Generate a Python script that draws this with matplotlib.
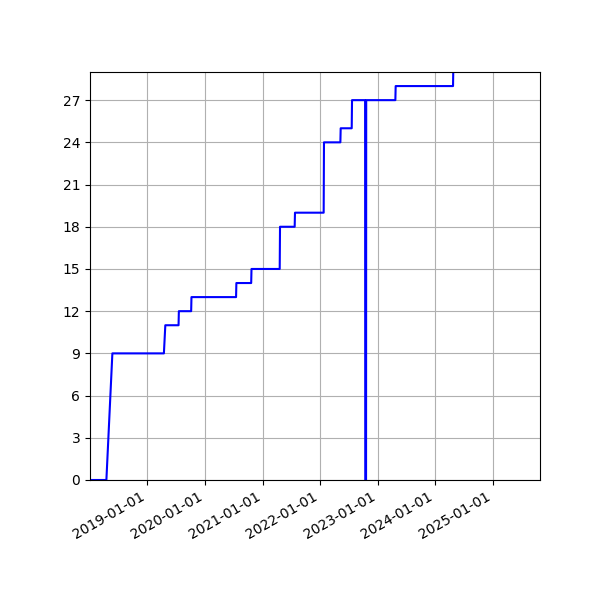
import matplotlib
matplotlib.use("Agg")
import matplotlib.pyplot as plt
import matplotlib.dates as mdates
import numpy as np
from datetime import datetime

# cumulative count (two points per step)
dates = [
    "2018-01-01", "2018-04-16", "2018-05-24",
    "2019-04-16", "2019-04-25",
    "2019-07-18", "2019-07-20",
    "2019-10-06", "2019-10-08",
    "2020-07-17", "2020-07-19",
    "2020-10-21", "2020-10-23",
    "2021-04-20", "2021-04-22",
    "2021-07-24", "2021-07-26",
    "2022-01-24", "2022-01-26",
    "2022-05-10", "2022-05-12",
    "2022-07-21", "2022-07-23",
    "2022-10-14", "2022-10-15", "2022-10-20", "2022-10-21",
    "2023-04-24", "2023-04-26",
    "2024-04-24", "2024-05-01",
]
values = [
    0, 0, 9,
    9, 11,
    11, 12,
    12, 13,
    13, 14,
    14, 15,
    15, 18,
    18, 19,
    19, 24,
    24, 25,
    25, 27,
    27, 0, 0, 27,
    27, 28,
    28, 33,
]

x = [datetime.strptime(d, "%Y-%m-%d") for d in dates]

fig = plt.figure(figsize=(6, 6), dpi=100)
ax = fig.add_subplot(111)
fig.subplots_adjust(left=0.15, right=0.9, top=0.88, bottom=0.2)

ax.plot(x, values, color="blue", linewidth=1.5)

ax.set_xlim(datetime(2018, 1, 2), datetime(2025, 10, 28))
ax.set_ylim(0, 29)
ax.set_yticks(np.arange(0, 28, 3))
ax.xaxis.set_major_locator(mdates.YearLocator())
ax.xaxis.set_major_formatter(mdates.DateFormatter("%Y-%m-%d"))
ax.grid(True)

for lbl in ax.get_xticklabels():
    lbl.set_rotation(30)
    lbl.set_ha("right")

fig.savefig("out.png", dpi=100)
